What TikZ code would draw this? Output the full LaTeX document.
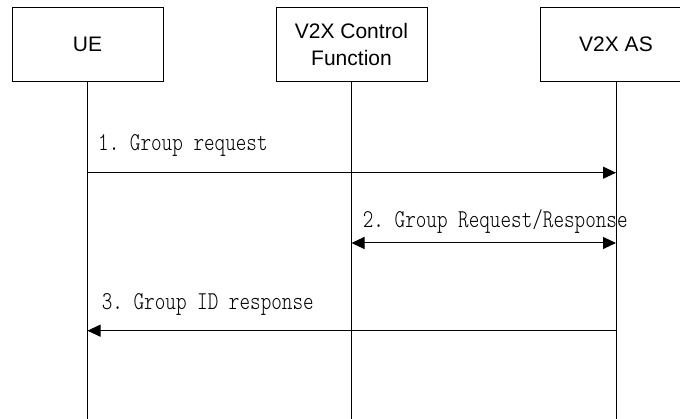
\documentclass[tikz,border=0pt]{standalone}
\usepackage{fontspec}
\setmainfont{Liberation Sans}
\newfontfamily\msgfont{lmmonolt10-regular.otf}[FakeStretch=0.785]
\usetikzlibrary{arrows.meta}
\begin{document}
\begin{tikzpicture}[x=1pt,y=-1pt,
  entity/.style={draw=black,line width=1pt,minimum width=151pt,minimum height=74pt,
    align=center,font=\fontsize{21}{27.5}\selectfont,inner sep=0pt},
  life/.style={line width=1pt},
  msg/.style={line width=1pt,-{Triangle[length=13pt,width=12pt]}},
  msgboth/.style={line width=1pt,{Triangle[length=13pt,width=12pt]}-{Triangle[length=13pt,width=12pt]}},
  lbl/.style={anchor=base west,inner sep=0pt,font=\msgfont\fontsize{25.7}{28}\selectfont}]
\clip (0,0) rectangle (680,419);
\node[entity] (ue) at (87.5,44.3) {UE};
\node[entity] (cf) at (351.5,44.3) {V2X Control\\Function};
\node[entity] (as) at (616,44.3) {V2X AS};
\coordinate (ueEnd) at (87.5,419);
\coordinate (cfEnd) at (351.5,419);
\coordinate (asEnd) at (616,419);
\draw[life] (ue.south) -- (ueEnd);
\draw[life] (cf.south) -- (cfEnd);
\draw[life] (as.south) -- (asEnd);
% message levels
\coordinate (y1) at (0,172.7);
\coordinate (y2) at (0,243);
\coordinate (y3) at (0,330.7);
\draw[msg] (ue |- y1) -- (as |- y1);
\draw[msgboth] (cf |- y2) -- (as |- y2);
\draw[msg] (as |- y3) -- (ue |- y3);
\node[lbl] (l1) at (98,150.7) {1.~Group request};
\node[lbl] (l2) at (362.7,227.3) {2.~Group Request/Response};
\node[lbl] (l3) at (101.7,310) {3.~Group ID response};
\end{tikzpicture}
\end{document}
